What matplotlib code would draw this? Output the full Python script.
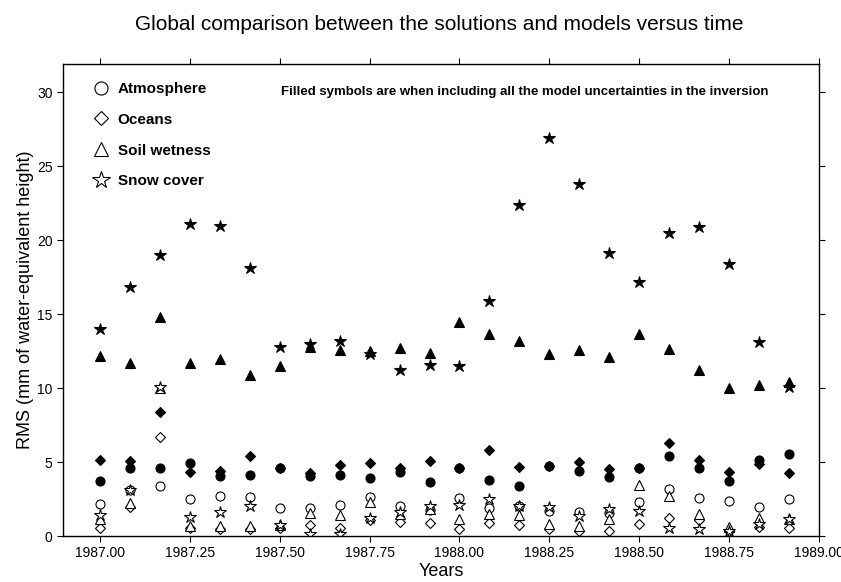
import matplotlib.pyplot as plt
import numpy as np
from matplotlib.lines import Line2D

plt.rcParams['font.family'] = ['Liberation Sans', 'DejaVu Sans']

# monthly epochs 1987.00 .. 1988.9167
years = 1987 + np.arange(24) / 12.0

# open symbols (solutions without model uncertainties)
atm_open = [2.14, 3.1, 3.4, 2.48, 2.7, 2.64, 1.87, 1.87, 2.12, 2.66, 2.0, 1.76,
            2.59, 1.87, 2.03, 1.71, 1.64, 1.58, 2.28, 3.15, 2.55, 2.34, 1.94, 2.48]
ocean_open = [0.52, 1.94, 6.67, 0.54, 0.45, 0.45, 0.52, 0.74, 0.56, 1.1, 0.93, 0.88,
              0.45, 0.9, 0.74, 0.45, 0.32, 0.36, 0.83, 1.2, 1.06, 0.36, 0.59, 0.52]
soil_open = [1.15, 2.25, 10.0, 0.68, 0.68, 0.7, 0.72, 1.58, 1.44, 2.28, 1.5, 1.8,
             1.15, 1.49, 1.42, 0.81, 0.68, 1.13, 3.45, 2.72, 1.5, 0.63, 1.2, 1.18]
snow_open = [1.42, 3.1, 10.1, 1.26, 1.6, 2.03, 0.72, 0.11, 0.14, 1.2, 1.6, 2.03,
             2.07, 2.48, 2.03, 1.98, 1.35, 1.82, 1.71, 0.54, 0.5, 0.36, 0.83, 1.18]

# filled symbols (including all model uncertainties)
atm_fill = [3.72, 4.6, 4.6, 4.95, 4.05, 4.14, 4.57, 4.05, 4.14, 3.9, 4.35, 3.65,
            4.62, 3.78, 3.36, 4.73, 4.39, 3.96, 4.62, 5.43, 4.57, 3.74, 5.14, 5.52]
ocean_fill = [5.14, 5.09, 8.4, 4.35, 4.39, 5.43, 4.6, 4.23, 4.82, 4.93, 4.57, 5.05,
              4.6, 5.79, 4.64, 4.75, 5.02, 4.55, 4.62, 6.31, 5.14, 4.3, 4.89, 4.26]
soil_fill = [12.16, 11.7, 14.8, 11.7, 11.96, 10.9, 11.5, 12.8, 12.6, 12.5, 12.7, 12.4,
             14.44, 13.65, 13.2, 12.3, 12.6, 12.1, 13.65, 12.65, 11.2, 9.98, 10.2, 10.4]
snow_fill = [13.97, 16.8, 19.0, 21.1, 20.97, 18.1, 12.8, 12.95, 13.2, 12.3, 11.2, 11.55,
             11.49, 15.9, 22.4, 26.9, 23.8, 19.1, 17.2, 20.5, 20.9, 18.4, 13.1, 10.05]

labels = ['Atmosphere', 'Oceans', 'Soil wetness', 'Snow cover']

fig = plt.figure(figsize=(8.41, 5.82), dpi=100)
ax = fig.add_axes([0.0749, 0.079, 0.8989, 0.811])

ms = {'o': 6.5, 'D': 5, '^': 6.5, '*': 9}
series = [('o', atm_open, atm_fill), ('D', ocean_open, ocean_fill),
          ('^', soil_open, soil_fill), ('*', snow_open, snow_fill)]
for m, op, fl in series:
    ax.plot(years, op, ls='none', marker=m, ms=ms[m], mfc='white', mec='black', mew=0.8)
for m, op, fl in series:
    ax.plot(years, fl, ls='none', marker=m, ms=ms[m], mfc='black', mec='black', mew=0.8)

handles = [Line2D([], [], ls='none', marker=m, ms=ms[m] * 1.45, mfc='white', mec='black', mew=0.8)
           for m, op, fl in series]
ax.legend(handles, labels, loc='upper left', frameon=False, bbox_to_anchor=(0.026, 0.975),
          prop={'weight': 'bold', 'size': 11}, labelspacing=1.1, handletextpad=0.3,
          borderaxespad=0.0, handlelength=1.6)

ax.text(0.611, 0.94, 'Filled symbols are when including all the model uncertainties in the inversion',
        transform=ax.transAxes, ha='center', va='center', fontsize=9.5, fontweight='bold')

ax.set_xlim(1986.897, 1989.0)
ax.set_ylim(0, 31.9)
ax.set_xticks(np.arange(1987, 1989.01, 0.25))
ax.set_xticklabels(['%.2f' % v for v in np.arange(1987, 1989.01, 0.25)], fontsize=10)
ax.set_yticks(np.arange(0, 31, 5))
ax.tick_params(axis='y', labelsize=10)
ax.tick_params(top=True, right=True, direction='out', length=4, width=0.8)
for s in ax.spines.values():
    s.set_linewidth(1.0)

ax.set_xlabel('Years', fontsize=13, labelpad=2)
ax.set_ylabel('RMS (mm of water-equivalent height)', fontsize=13, labelpad=2)
fig.text(0.522, 0.958, 'Global comparison between the solutions and models versus time',
         fontsize=15, ha='center', va='center')

fig.savefig('out.png', dpi=100)
